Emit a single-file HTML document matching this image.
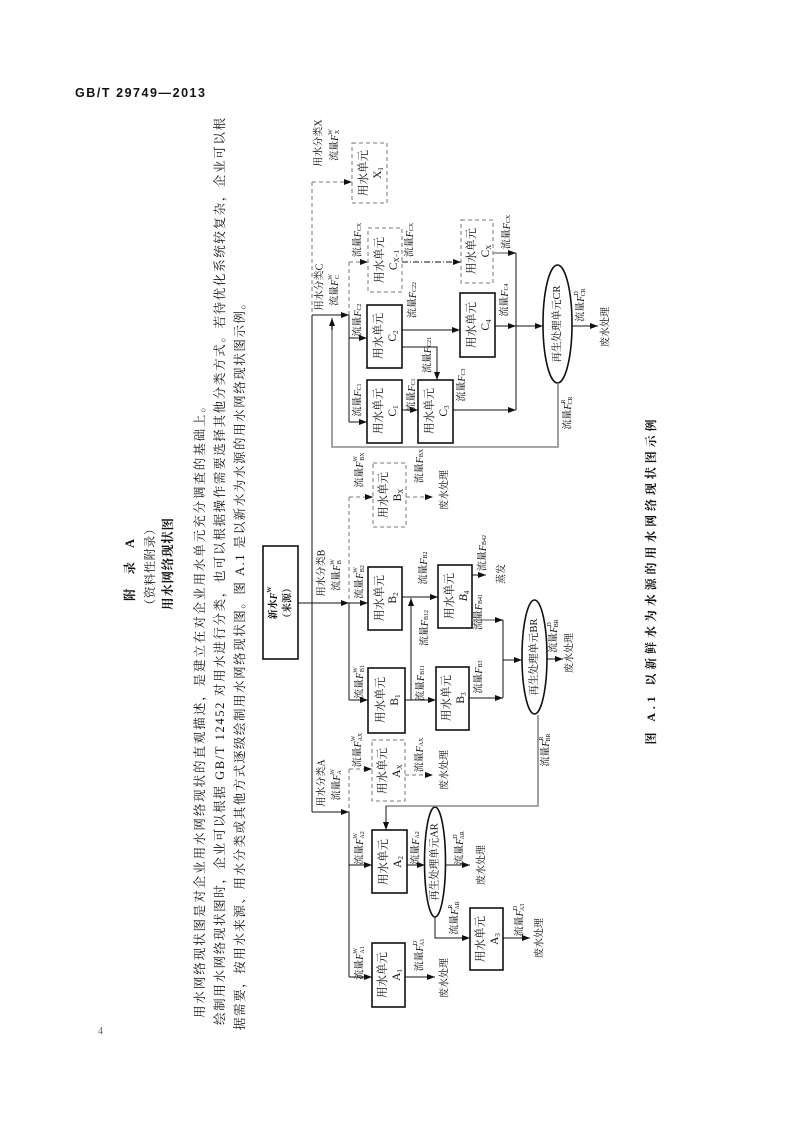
<!DOCTYPE html>
<html><head><meta charset="utf-8"><style>
html,body{margin:0;padding:0;background:#fff;}
svg{display:block;}
text{font-family:"Liberation Serif","Noto Serif CJK SC","Noto Sans CJK SC",serif;fill:#111;}
.r{text-anchor:middle;dominant-baseline:central;}
.l{font-size:10px;}
.b{font-size:11.5px;}
.p{font-size:12.5px;}
.ln{stroke:#111;stroke-width:1;fill:none;}
.g{stroke:#888;stroke-width:1.6;fill:none;}
.d{stroke:#777;stroke-width:1;fill:none;stroke-dasharray:4 3;}
.dd{stroke:#111;stroke-width:1;fill:none;stroke-dasharray:6 2 1 2;}
.bx{stroke:#111;stroke-width:1.6;fill:#fff;}
.dbx{stroke:#777;stroke-width:1;fill:#fff;stroke-dasharray:4 3;}
</style></head><body>
<svg width="794" height="1123" viewBox="0 0 794 1123" xmlns="http://www.w3.org/2000/svg">
<defs><marker id="a" markerWidth="8" markerHeight="6" refX="8" refY="3" orient="auto" markerUnits="userSpaceOnUse"><path d="M0,0 L8,3 L0,6 z" fill="#111"/></marker></defs>

<text x="75" y="97" style="font-family:'Liberation Sans',sans-serif;font-weight:bold;font-size:12.5px;" textLength="130" lengthAdjust="spacing">GB/T 29749—2013</text>
<text x="98" y="1034" style="font-size:10px;fill:#666">4</text>

<!-- titles -->
<text class="r" transform="translate(130,570) rotate(-90)" style="font-size:12.5px;font-weight:bold" textLength="62" lengthAdjust="spacing">附 录 A</text>
<text class="r" transform="translate(150,567) rotate(-90)" style="font-size:12px" textLength="88" lengthAdjust="spacing">（资料性附录）</text>
<text class="r" transform="translate(168,564) rotate(-90)" style="font-size:12.5px;font-weight:bold" textLength="92" lengthAdjust="spacing">用水网络现状图</text>

<!-- paragraph -->
<text class="p" transform="translate(200,1018) rotate(-90)" dominant-baseline="central" textLength="618" lengthAdjust="spacing">用水网络现状图是对企业用水网络现状的直观描述，是建立在对企业用水单元充分调查的基础上。</text>
<text class="p" transform="translate(220,1025) rotate(-90)" dominant-baseline="central" textLength="907" lengthAdjust="spacing">绘制用水网络现状图时，企业可以根据 GB/T 12452 对用水进行分类，也可以根据操作需要选择其他分类方式。若待优化系统较复杂，企业可以根</text>
<text class="p" transform="translate(240,1030) rotate(-90)" dominant-baseline="central" textLength="733" lengthAdjust="spacing">据需要，按用水来源、用水分类或其他方式逐级绘制用水网络现状图。图 A.1 是以新水为水源的用水网络现状图示例。</text>

<!-- caption -->
<text class="r" transform="translate(651,582) rotate(-90)" style="font-size:12px;font-weight:bold" textLength="325" lengthAdjust="spacing">图 A.1 以新鲜水为水源的用水网络现状图示例</text>

<!-- source -->
<rect class="bx" x="263" y="546" width="35" height="113"/>
<text class="r" transform="translate(274,603) rotate(-90)" style="font-size:10px;font-weight:bold">新水<tspan font-style="italic">F</tspan><tspan font-size="6" dy="-4">W</tspan></text>
<text class="r" transform="translate(288,603) rotate(-90)" style="font-size:10px;font-weight:bold">（来源）</text>

<!-- trunk -->
<line class="d" x1="312" y1="182" x2="312" y2="315"/>
<line class="ln" x1="312" y1="315" x2="312" y2="812"/>
<line class="ln" x1="298" y1="603" x2="349" y2="603" marker-end="url(#a)"/>
<line class="ln" x1="312" y1="812" x2="349" y2="812" marker-end="url(#a)"/>
<line class="ln" x1="312" y1="315" x2="349" y2="315" marker-end="url(#a)"/>
<line class="d" x1="312" y1="182" x2="352" y2="182" marker-end="url(#a)"/>

<!-- branch labels -->
<text class="r l" transform="translate(319,143) rotate(-90)">用水分类X</text>
<text class="r l" transform="translate(335,145) rotate(-90)">流量<tspan font-style="italic">F</tspan><tspan font-size="6" dy="-4">W</tspan><tspan font-size="6" dy="7" dx="-5">X</tspan></text>
<text class="r l" transform="translate(320,287) rotate(-90)">用水分类C</text>
<text class="r l" transform="translate(335,290) rotate(-90)">流量<tspan font-style="italic">F</tspan><tspan font-size="6" dy="-4">W</tspan><tspan font-size="6" dy="7" dx="-5">C</tspan></text>
<text class="r l" transform="translate(322,573) rotate(-90)">用水分类B</text>
<text class="r l" transform="translate(337,575) rotate(-90)">流量<tspan font-style="italic">F</tspan><tspan font-size="6" dy="-4">W</tspan><tspan font-size="6" dy="7" dx="-5">B</tspan></text>
<text class="r l" transform="translate(322,783) rotate(-90)">用水分类A</text>
<text class="r l" transform="translate(337,785) rotate(-90)">流量<tspan font-style="italic">F</tspan><tspan font-size="6" dy="-4">W</tspan><tspan font-size="6" dy="7" dx="-5">A</tspan></text>

<!-- X1 -->
<rect class="dbx" x="352" y="143" width="35" height="60"/>
<text class="r b" transform="translate(364,173) rotate(-90)">用水单元</text>
<text class="r b" transform="translate(378,173) rotate(-90)">X<tspan font-size="7" dy="3">1</tspan></text>

<!-- A branch -->
<line class="d" x1="349" y1="769" x2="349" y2="812"/>
<line class="ln" x1="349" y1="812" x2="349" y2="977"/>
<line class="ln" x1="349" y1="977" x2="372" y2="977" marker-end="url(#a)"/>
<line class="ln" x1="349" y1="865" x2="372" y2="865" marker-end="url(#a)"/>
<line class="d" x1="349" y1="769" x2="372" y2="769" marker-end="url(#a)"/>
<rect class="bx" x="372" y="943" width="33" height="64"/>
<text class="r b" transform="translate(383,975) rotate(-90)">用水单元</text>
<text class="r b" transform="translate(397,975) rotate(-90)">A<tspan font-size="7" dy="3">1</tspan></text>
<rect class="bx" x="372" y="830" width="35" height="63"/>
<text class="r b" transform="translate(384,862) rotate(-90)">用水单元</text>
<text class="r b" transform="translate(398,862) rotate(-90)">A<tspan font-size="7" dy="3">2</tspan></text>
<rect class="dbx" x="372" y="740" width="33" height="61"/>
<text class="r b" transform="translate(383,771) rotate(-90)">用水单元</text>
<text class="r b" transform="translate(397,771) rotate(-90)">A<tspan font-size="7" dy="3">X</tspan></text>
<line class="ln" x1="405" y1="977" x2="435" y2="977" marker-end="url(#a)"/>
<line class="ln" x1="407" y1="865" x2="425" y2="865" marker-end="url(#a)"/>
<ellipse class="bx" cx="435" cy="862" rx="10.5" ry="55"/>
<text class="r" transform="translate(435,862) rotate(-90)" style="font-size:10.5px">再生处理单元AR</text>
<line class="ln" x1="446" y1="865" x2="470" y2="865" marker-end="url(#a)"/>
<polyline class="ln" points="435,917 435,938 470,938" marker-end="url(#a)"/>
<rect class="bx" x="470" y="908" width="33" height="62"/>
<text class="r b" transform="translate(481,939) rotate(-90)">用水单元</text>
<text class="r b" transform="translate(495,939) rotate(-90)">A<tspan font-size="7" dy="3">3</tspan></text>
<line class="ln" x1="503" y1="938" x2="530" y2="938" marker-end="url(#a)"/>
<line class="d" x1="405" y1="775" x2="433" y2="775" marker-end="url(#a)"/>
<polyline class="g" points="538,715 538,806 386,806"/>
<line class="ln" x1="386" y1="806" x2="386" y2="830" marker-end="url(#a)"/>

<text class="r l" transform="translate(360,963) rotate(-90)">流量<tspan font-style="italic">F</tspan><tspan font-size="6" dy="-4">W</tspan><tspan font-size="6" dy="7" dx="-5">A1</tspan></text>
<text class="r l" transform="translate(360,848) rotate(-90)">流量<tspan font-style="italic">F</tspan><tspan font-size="6" dy="-4">W</tspan><tspan font-size="6" dy="7" dx="-5">A2</tspan></text>
<text class="r l" transform="translate(358,750) rotate(-90)">流量<tspan font-style="italic">F</tspan><tspan font-size="6" dy="-4">W</tspan><tspan font-size="6" dy="7" dx="-5">AX</tspan></text>
<text class="r l" transform="translate(420,955) rotate(-90)">流量<tspan font-style="italic">F</tspan><tspan font-size="6" dy="-4">D</tspan><tspan font-size="6" dy="7" dx="-5">A1</tspan></text>
<text class="r l" transform="translate(445,978) rotate(-90)">废水处理</text>
<text class="r l" transform="translate(416,848) rotate(-90)">流量<tspan font-style="italic">F</tspan><tspan font-size="6" dy="2">A2</tspan></text>
<text class="r l" transform="translate(460,848) rotate(-90)">流量<tspan font-style="italic">F</tspan><tspan font-size="6" dy="-4">D</tspan><tspan font-size="6" dy="7" dx="-5">AR</tspan></text>
<text class="r l" transform="translate(482,865) rotate(-90)">废水处理</text>
<text class="r l" transform="translate(455,918) rotate(-90)">流量<tspan font-style="italic">F</tspan><tspan font-size="6" dy="-4">R</tspan><tspan font-size="6" dy="7" dx="-5">AR</tspan></text>
<text class="r l" transform="translate(520,920) rotate(-90)">流量<tspan font-style="italic">F</tspan><tspan font-size="6" dy="-4">D</tspan><tspan font-size="6" dy="7" dx="-5">A3</tspan></text>
<text class="r l" transform="translate(540,938) rotate(-90)">废水处理</text>
<text class="r l" transform="translate(420,755) rotate(-90)">流量<tspan font-style="italic">F</tspan><tspan font-size="6" dy="2">AX</tspan></text>
<text class="r l" transform="translate(445,770) rotate(-90)">废水处理</text>
<text class="r l" transform="translate(546,750) rotate(-90)">流量<tspan font-style="italic">F</tspan><tspan font-size="6" dy="-4">R</tspan><tspan font-size="6" dy="7" dx="-5">BR</tspan></text>

<!-- B branch -->
<line class="d" x1="349" y1="497" x2="349" y2="603"/>
<line class="ln" x1="349" y1="603" x2="349" y2="700"/>
<line class="ln" x1="349" y1="700" x2="368" y2="700" marker-end="url(#a)"/>
<line class="ln" x1="349" y1="603" x2="368" y2="603" marker-end="url(#a)"/>
<line class="d" x1="349" y1="497" x2="373" y2="497" marker-end="url(#a)"/>
<rect class="bx" x="368" y="668" width="37" height="65"/>
<text class="r b" transform="translate(381,700) rotate(-90)">用水单元</text>
<text class="r b" transform="translate(395,700) rotate(-90)">B<tspan font-size="7" dy="3">1</tspan></text>
<rect class="bx" x="368" y="567" width="34" height="63"/>
<text class="r b" transform="translate(380,598) rotate(-90)">用水单元</text>
<text class="r b" transform="translate(393,598) rotate(-90)">B<tspan font-size="7" dy="3">2</tspan></text>
<rect class="dbx" x="373" y="463" width="33" height="64"/>
<text class="r b" transform="translate(384,495) rotate(-90)">用水单元</text>
<text class="r b" transform="translate(398,495) rotate(-90)">B<tspan font-size="7" dy="3">X</tspan></text>
<line class="ln" x1="405" y1="700" x2="436" y2="700" marker-end="url(#a)"/>
<line class="ln" x1="411" y1="700" x2="411" y2="598" marker-end="url(#a)"/>
<line class="ln" x1="402" y1="597" x2="438" y2="597" marker-end="url(#a)"/>
<rect class="bx" x="436" y="667" width="33" height="63"/>
<text class="r b" transform="translate(447,698) rotate(-90)">用水单元</text>
<text class="r b" transform="translate(461,698) rotate(-90)">B<tspan font-size="7" dy="3">3</tspan></text>
<rect class="bx" x="438" y="565" width="34" height="63"/>
<text class="r b" transform="translate(450,596) rotate(-90)">用水单元</text>
<text class="r b" transform="translate(464,596) rotate(-90)"><tspan font-style="italic">B</tspan><tspan font-size="7" dy="3">4</tspan></text>
<line class="ln" x1="469" y1="698" x2="503" y2="698" marker-end="url(#a)"/>
<line class="ln" x1="472" y1="575" x2="486" y2="575" marker-end="url(#a)"/>
<line class="g" x1="472" y1="620" x2="503" y2="620" marker-end="url(#a)"/>
<line class="ln" x1="503" y1="620" x2="503" y2="698"/>
<line class="ln" x1="503" y1="660" x2="522" y2="660" marker-end="url(#a)"/>
<ellipse class="bx" cx="534.5" cy="657" rx="12.5" ry="57"/>
<text class="r" transform="translate(534.5,657) rotate(-90)" style="font-size:10.5px">再生处理单元BR</text>
<line class="ln" x1="547" y1="659" x2="563" y2="659" marker-end="url(#a)"/>
<line class="d" x1="406" y1="497" x2="433" y2="497" marker-end="url(#a)"/>

<text class="r l" transform="translate(360,682) rotate(-90)">流量<tspan font-style="italic">F</tspan><tspan font-size="6" dy="-4">W</tspan><tspan font-size="6" dy="7" dx="-5">B1</tspan></text>
<text class="r l" transform="translate(360,582) rotate(-90)">流量<tspan font-style="italic">F</tspan><tspan font-size="6" dy="-4">W</tspan><tspan font-size="6" dy="7" dx="-5">B2</tspan></text>
<text class="r l" transform="translate(360,470) rotate(-90)">流量<tspan font-style="italic">F</tspan><tspan font-size="6" dy="-4">W</tspan><tspan font-size="6" dy="7" dx="-5">BX</tspan></text>
<text class="r l" transform="translate(421,683) rotate(-90)">流量<tspan font-style="italic">F</tspan><tspan font-size="6" dy="2">B11</tspan></text>
<text class="r l" transform="translate(425,628) rotate(-90)">流量<tspan font-style="italic">F</tspan><tspan font-size="6" dy="2">B12</tspan></text>
<text class="r l" transform="translate(424,568) rotate(-90)">流量<tspan font-style="italic">F</tspan><tspan font-size="6" dy="2">B2</tspan></text>
<text class="r l" transform="translate(479,677) rotate(-90)">流量<tspan font-style="italic">F</tspan><tspan font-size="6" dy="2">B3</tspan></text>
<text class="r l" transform="translate(483,553) rotate(-90)">流量<tspan font-style="italic">F</tspan><tspan font-size="6" dy="2">B42</tspan></text>
<text class="r l" transform="translate(502,574) rotate(-90)">蒸发</text>
<text class="r l" transform="translate(479,612) rotate(-90)">流量<tspan font-style="italic">F</tspan><tspan font-size="6" dy="2">B41</tspan></text>
<text class="r l" transform="translate(554,636) rotate(-90)">流量<tspan font-style="italic">F</tspan><tspan font-size="6" dy="-4">D</tspan><tspan font-size="6" dy="7" dx="-5">BR</tspan></text>
<text class="r l" transform="translate(570,653) rotate(-90)">废水处理</text>
<text class="r l" transform="translate(420,466) rotate(-90)">流量<tspan font-style="italic">F</tspan><tspan font-size="6" dy="2">BX</tspan></text>
<text class="r l" transform="translate(445,490) rotate(-90)">废水处理</text>

<!-- C branch -->
<line class="d" x1="349" y1="262" x2="349" y2="315"/>
<line class="ln" x1="349" y1="315" x2="349" y2="422"/>
<line class="ln" x1="349" y1="422" x2="367" y2="422" marker-end="url(#a)"/>
<line class="ln" x1="349" y1="338" x2="367" y2="338" marker-end="url(#a)"/>
<line class="d" x1="349" y1="262" x2="368" y2="262" marker-end="url(#a)"/>
<rect class="bx" x="367" y="380" width="35" height="63"/>
<text class="r b" transform="translate(379,411) rotate(-90)">用水单元</text>
<text class="r b" transform="translate(393,411) rotate(-90)">C<tspan font-size="7" dy="3">1</tspan></text>
<rect class="bx" x="367" y="305" width="35" height="63"/>
<text class="r b" transform="translate(379,336) rotate(-90)">用水单元</text>
<text class="r b" transform="translate(393,336) rotate(-90)">C<tspan font-size="7" dy="3">2</tspan></text>
<rect class="dbx" x="368" y="228" width="34" height="64"/>
<text class="r b" transform="translate(380,260) rotate(-90)">用水单元</text>
<text class="r b" transform="translate(394,260) rotate(-90)">C<tspan font-size="7" dy="3">X−1</tspan></text>
<line class="ln" x1="402" y1="410" x2="418" y2="410" marker-end="url(#a)"/>
<line class="ln" x1="402" y1="330" x2="460" y2="330" marker-end="url(#a)"/>
<polyline class="ln" points="402,347 437,347 437,380" marker-end="url(#a)"/>
<rect class="bx" x="418" y="380" width="35" height="63"/>
<text class="r b" transform="translate(430,411) rotate(-90)">用水单元</text>
<text class="r b" transform="translate(444,411) rotate(-90)">C<tspan font-size="7" dy="3">3</tspan></text>
<rect class="bx" x="460" y="293" width="35" height="64"/>
<text class="r b" transform="translate(472,325) rotate(-90)">用水单元</text>
<text class="r b" transform="translate(486,325) rotate(-90)">C<tspan font-size="7" dy="3">4</tspan></text>
<line class="dd" x1="402" y1="262" x2="461" y2="262" marker-end="url(#a)"/>
<rect class="dbx" x="461" y="220" width="32" height="63"/>
<text class="r b" transform="translate(472,251) rotate(-90)">用水单元</text>
<text class="r b" transform="translate(486,251) rotate(-90)">C<tspan font-size="7" dy="3">X</tspan></text>
<line class="ln" x1="453" y1="410" x2="516" y2="410" marker-end="url(#a)"/>
<line class="ln" x1="495" y1="326" x2="516" y2="326" marker-end="url(#a)"/>
<line class="g" x1="493" y1="253" x2="516" y2="253" marker-end="url(#a)"/>
<line class="ln" x1="516" y1="253" x2="516" y2="410"/>
<line class="ln" x1="516" y1="326" x2="543" y2="326" marker-end="url(#a)"/>
<ellipse class="bx" cx="557.5" cy="324" rx="14.5" ry="59"/>
<text class="r" transform="translate(557.5,324) rotate(-90)" style="font-size:10.5px">再生处理单元CR</text>
<line class="ln" x1="572" y1="326" x2="598" y2="326" marker-end="url(#a)"/>
<polyline class="g" points="558,383 558,447 332,447 332,322"/>
<line class="ln" x1="332" y1="330" x2="332" y2="318" marker-end="url(#a)"/>

<text class="r l" transform="translate(358,400) rotate(-90)">流量<tspan font-style="italic">F</tspan><tspan font-size="6" dy="2">C1</tspan></text>
<text class="r l" transform="translate(358,320) rotate(-90)">流量<tspan font-style="italic">F</tspan><tspan font-size="6" dy="2">C2</tspan></text>
<text class="r l" transform="translate(358,240) rotate(-90)">流量<tspan font-style="italic">F</tspan><tspan font-size="6" dy="2">CX</tspan></text>
<text class="r l" transform="translate(412,395) rotate(-90)">流量<tspan font-style="italic">F</tspan><tspan font-size="6" dy="2">C1</tspan></text>
<text class="r l" transform="translate(413,300) rotate(-90)">流量<tspan font-style="italic">F</tspan><tspan font-size="6" dy="2">C22</tspan></text>
<text class="r l" transform="translate(428,355) rotate(-90)">流量<tspan font-style="italic">F</tspan><tspan font-size="6" dy="2">C21</tspan></text>
<text class="r l" transform="translate(462,385) rotate(-90)">流量<tspan font-style="italic">F</tspan><tspan font-size="6" dy="2">C3</tspan></text>
<text class="r l" transform="translate(505,300) rotate(-90)">流量<tspan font-style="italic">F</tspan><tspan font-size="6" dy="2">C4</tspan></text>
<text class="r l" transform="translate(410,240) rotate(-90)">流量<tspan font-style="italic">F</tspan><tspan font-size="6" dy="2">CX</tspan></text>
<text class="r l" transform="translate(507,232) rotate(-90)">流量<tspan font-style="italic">F</tspan><tspan font-size="6" dy="2">CX</tspan></text>
<text class="r l" transform="translate(581,305) rotate(-90)">流量<tspan font-style="italic">F</tspan><tspan font-size="6" dy="-4">D</tspan><tspan font-size="6" dy="7" dx="-5">CR</tspan></text>
<text class="r l" transform="translate(606,327) rotate(-90)">废水处理</text>
<text class="r l" transform="translate(568,413) rotate(-90)">流量<tspan font-style="italic">F</tspan><tspan font-size="6" dy="-4">R</tspan><tspan font-size="6" dy="7" dx="-5">CR</tspan></text>
</svg>
</body></html>
